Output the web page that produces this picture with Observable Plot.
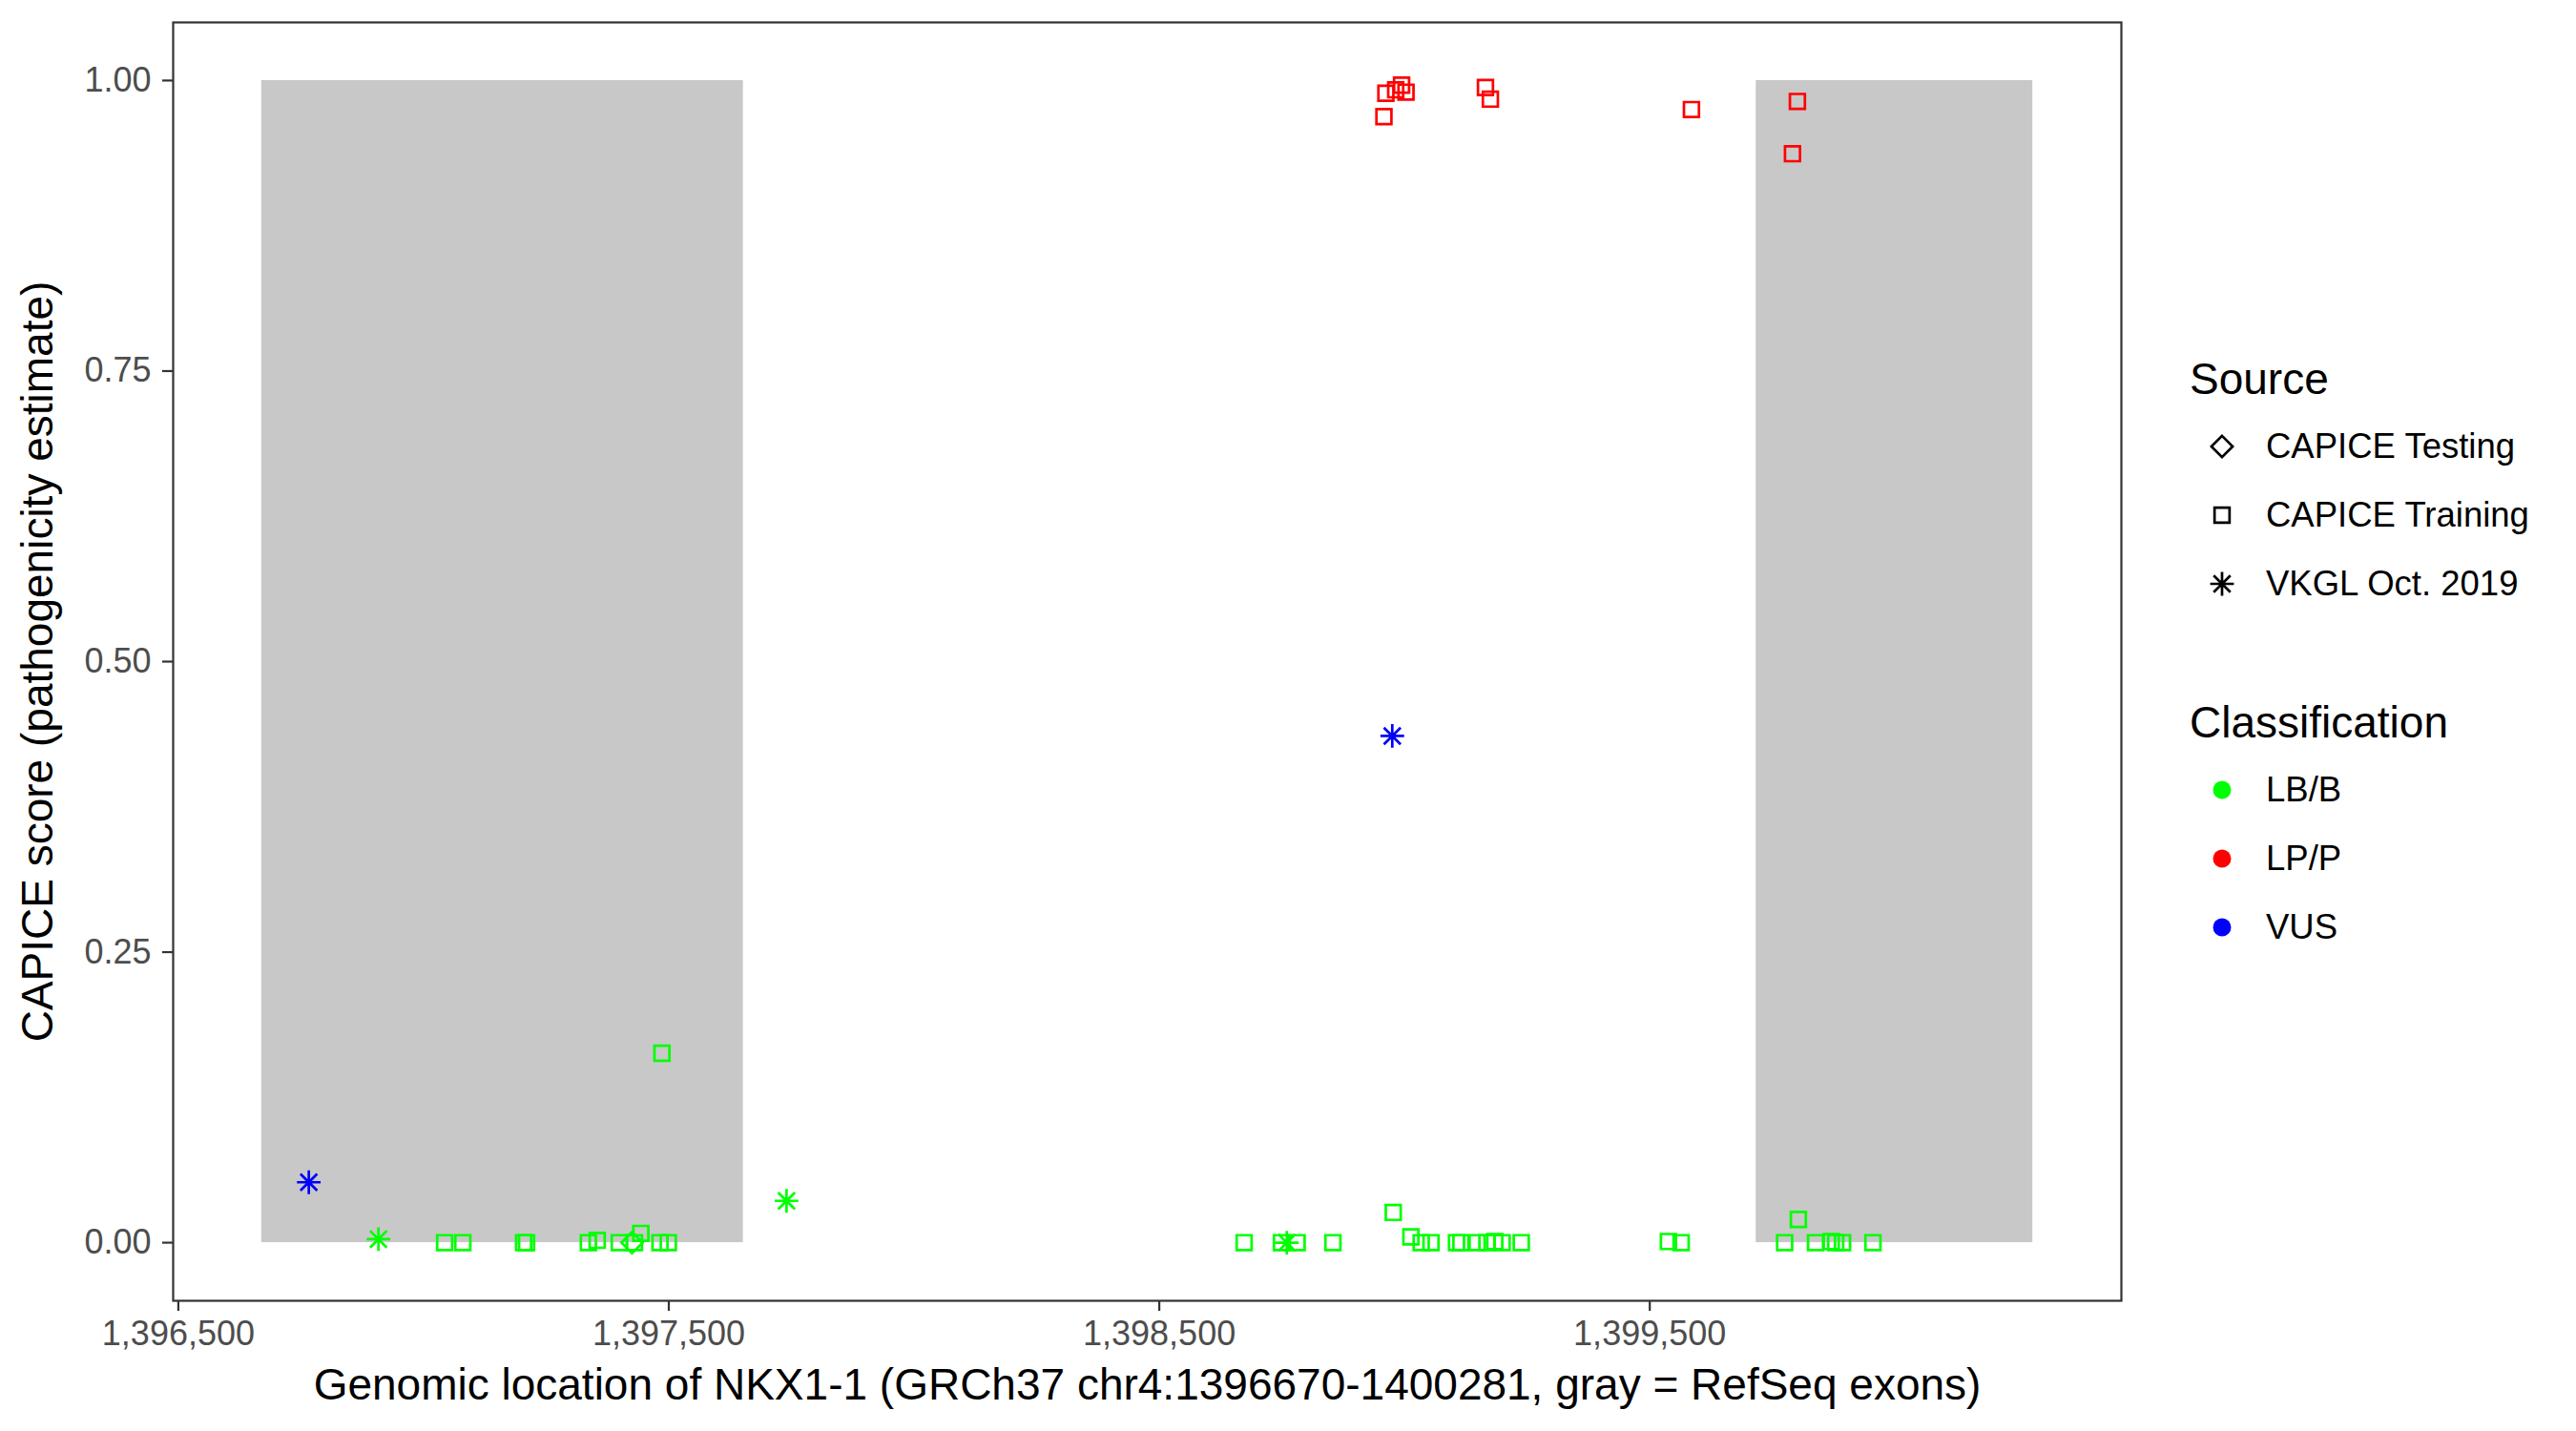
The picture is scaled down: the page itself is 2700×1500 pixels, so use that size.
<!DOCTYPE html>
<html>
<head>
<meta charset="utf-8">
<script src="https://cdn.jsdelivr.net/npm/d3@7"></script>
<script src="https://cdn.jsdelivr.net/npm/@observablehq/plot@0.6"></script>
<style>
  body { margin: 0; background: #fff; font-family: "Liberation Sans", Arial, sans-serif; }
  #wrap { position: relative; width: 2700px; height: 1500px; }
  .legend { position: absolute; left: 2295px; }
  .ltitle { height: 69px; line-height: 69px; font-size: 46px; color: #000; white-space: nowrap; }
  .item { height: 72px; display: flex; align-items: center; font-size: 36.5px; color: #000; white-space: nowrap; }
  .item svg { width: 68px; height: 72px; flex: none; }
  .item span { margin-left: 12px; }
</style>
</head>
<body>
<div id="wrap"></div>
<script>
// ---- data ----
const sourceLevels = ["CAPICE Testing", "CAPICE Training", "VKGL Oct. 2019"];
const classLevels = ["LB/B", "LP/P", "VUS"];
const classColors = ["#00FF00", "#FF0000", "#0000FF"];

const exonStart = [1396670, 1399717];
const exonEnd = [1397652, 1400281];
const exonScoreLow = [0, 0];
const exonScoreHigh = [1, 1];

const xTicks = [1396500, 1397500, 1398500, 1399500];
const yTicks = [0, 0.25, 0.5, 0.75, 1];
const xDomain = [1396489.45, 1400461.55];
const yDomain = [-0.05, 1.05];

const xTitle = "Genomic location of NKX1-1 (GRCh37 chr4:1396670-1400281, gray = RefSeq exons)";
const yTitle = "CAPICE score (pathogenicity estimate)";

// variants: genomic position, CAPICE score, source, classification
const pos = [
  // VKGL
  1396766, 1396908, 1397740, 1398760, 1398975,
  // CAPICE testing
  1397425,
  // CAPICE training, LB/B, left exon
  1397043, 1397080, 1397204, 1397210, 1397336, 1397354, 1397399, 1397430, 1397443, 1397482, 1397499, 1397486,
  // CAPICE training, LB/B, middle
  1398673, 1398749, 1398781, 1398854, 1398977, 1399013, 1399034, 1399054, 1399106, 1399115, 1399148, 1399168, 1399184, 1399199, 1399238,
  1399538, 1399564,
  // CAPICE training, LB/B, right exon
  1399775, 1399803, 1399838, 1399870, 1399879, 1399893, 1399955,
  // CAPICE training, LP/P
  1398958, 1398962, 1398982, 1398994, 1399003, 1399165, 1399175, 1399585, 1399801, 1399791
];
const score = [
  0.052, 0.003, 0.036, 0.0, 0.436,
  0.0,
  0.0, 0.0, 0.0, 0.0, 0.0, 0.002, 0.0, 0.0, 0.008, 0.0, 0.0, 0.163,
  0.0, 0.0, 0.0, 0.0, 0.026, 0.005, 0.0, 0.0, 0.0, 0.0, 0.0, 0.0, 0.001, 0.0, 0.0,
  0.001, 0.0,
  0.0, 0.020, 0.0, 0.001, 0.0, 0.0, 0.0,
  0.969, 0.989, 0.992, 0.996, 0.990, 0.994, 0.984, 0.975, 0.982, 0.937
];
const source = [
  "VKGL Oct. 2019", "VKGL Oct. 2019", "VKGL Oct. 2019", "VKGL Oct. 2019", "VKGL Oct. 2019",
  "CAPICE Testing",
  ...Array(12).fill("CAPICE Training"),
  ...Array(15).fill("CAPICE Training"),
  ...Array(2).fill("CAPICE Training"),
  ...Array(7).fill("CAPICE Training"),
  ...Array(10).fill("CAPICE Training")
];
const cls = [
  "VUS", "LB/B", "LB/B", "LB/B", "VUS",
  "LB/B",
  ...Array(12).fill("LB/B"),
  ...Array(15).fill("LB/B"),
  ...Array(2).fill("LB/B"),
  ...Array(7).fill("LB/B"),
  ...Array(10).fill("LP/P")
];

// ---- build tables ----
const points = pos.map((p, i) => ({pos: p, score: score[i], source: source[i], cls: cls[i]}));
const exons = exonStart.map((s, i) => ({start: s, end: exonEnd[i], lo: exonScoreLow[i], hi: exonScoreHigh[i]}));

// ggplot-style 8-armed asterisk (shape 8)
const asterisk8 = {
  draw(ctx, size) {
    const r = Math.sqrt(size) * 0.7;
    const d = r * Math.SQRT1_2;
    ctx.moveTo(0, -r); ctx.lineTo(0, r);
    ctx.moveTo(-r, 0); ctx.lineTo(r, 0);
    ctx.moveTo(-d, -d); ctx.lineTo(d, d);
    ctx.moveTo(-d, d); ctx.lineTo(d, -d);
  }
};
const symbolFor = {
  "CAPICE Testing": "diamond2",
  "CAPICE Training": "square2",
  "VKGL Oct. 2019": asterisk8
};
const d3SymbolFor = {
  "CAPICE Testing": d3.symbolDiamond2,
  "CAPICE Training": d3.symbolSquare2,
  "VKGL Oct. 2019": asterisk8
};
const R = 10;

const chart = Plot.plot({
  width: 2700,
  height: 1500,
  marginLeft: 181,
  marginRight: 477,
  marginTop: 23,
  marginBottom: 137,
  style: {fontFamily: "'Liberation Sans', Arial, sans-serif", background: "white", overflow: "visible"},
  x: {domain: xDomain},
  y: {domain: yDomain},
  color: {type: "ordinal", domain: classLevels, range: classColors},
  marks: [
    Plot.rect(exons, {x1: "start", x2: "end", y1: "lo", y2: "hi", fill: "#C8C8C8"}),
    ...sourceLevels.map(s => Plot.dot(points.filter(p => p.source === s), {
      x: "pos", y: "score", symbol: symbolFor[s], stroke: "cls", fill: "none", r: R, strokeWidth: 2.7
    })),
    Plot.axisX(xTicks, {
      tickFormat: d3.format(","), tickSize: 11, tickPadding: 10, fontSize: 36,
      stroke: "#333333", strokeWidth: 2.2, fill: "#4D4D4D", label: null
    }),
    Plot.axisY(yTicks, {
      tickFormat: d3.format(".2f"), tickSize: 11, tickPadding: 12, fontSize: 36,
      stroke: "#333333", strokeWidth: 2.2, fill: "#4D4D4D", label: null
    }),
    Plot.text([xTitle], {text: d => d, frameAnchor: "bottom", dy: 89, fontSize: 46, fill: "#000",
      textAnchor: "middle", lineAnchor: "middle"}),
    Plot.text([yTitle], {text: d => d, frameAnchor: "left", dx: -141, rotate: -90, fontSize: 46, fill: "#000",
      textAnchor: "middle", lineAnchor: "middle"}),
    Plot.frame({stroke: "#333333", strokeWidth: 2.2})
  ]
});

const wrap = document.getElementById("wrap");
wrap.appendChild(chart);

// ---- legend (right side) ----
function symbolSvg(sym, filled, color) {
  const ns = "http://www.w3.org/2000/svg";
  const svg = document.createElementNS(ns, "svg");
  svg.setAttribute("viewBox", "-34 -36 68 72");
  const path = document.createElementNS(ns, "path");
  if (filled) {
    path.setAttribute("d", d3.symbol(d3.symbolCircle, Math.PI * 9.5 * 9.5)());
    path.setAttribute("fill", color);
  } else {
    path.setAttribute("d", d3.symbol(sym, Math.PI * R * R)());
    path.setAttribute("fill", "none");
    path.setAttribute("stroke", color);
    path.setAttribute("stroke-width", 2.7);
  }
  svg.appendChild(path);
  return svg;
}
function legendBlock(top, title, rows) {
  const div = document.createElement("div");
  div.className = "legend";
  div.style.top = top + "px";
  const t = document.createElement("div");
  t.className = "ltitle";
  t.textContent = title;
  div.appendChild(t);
  rows.forEach(([label, svg]) => {
    const r = document.createElement("div");
    r.className = "item";
    r.appendChild(svg);
    const s = document.createElement("span");
    s.textContent = label;
    r.appendChild(s);
    div.appendChild(r);
  });
  wrap.appendChild(div);
}
legendBlock(363, "Source", sourceLevels.map(s => [s, symbolSvg(d3SymbolFor[s], false, "#000")]));
legendBlock(723, "Classification", classLevels.map((c, i) => [c, symbolSvg(null, true, classColors[i])]));
</script>
</body>
</html>
